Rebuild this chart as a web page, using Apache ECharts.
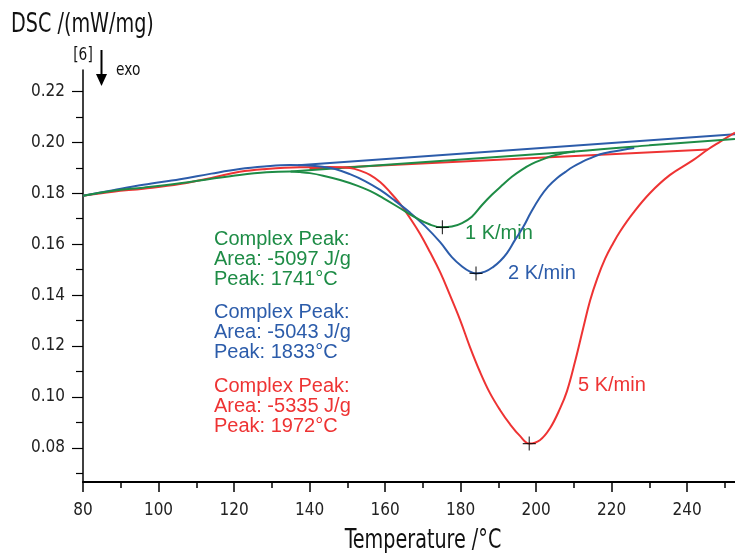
<!DOCTYPE html>
<html>
<head>
<meta charset="utf-8">
<script src="https://cdn.jsdelivr.net/npm/echarts@6/dist/echarts.min.js"></script>
<style>
  html, body { margin: 0; padding: 0; background: #fff; }
  #chart { width: 735px; height: 553px; }
</style>
</head>
<body>
<div id="chart"></div>
<script>
// DSC curves, temperature /°C against signal /(mW/mg)
const greenT = [80, 88, 96, 105.7, 114, 121.5, 128.6, 134.8, 137.5, 140.1, 143.6, 148.1, 152.6, 156.0, 159.5, 164.0, 168.5, 171.9, 175.1, 177.7, 180.4, 183.0, 185.7, 188.3, 191.0, 193.6, 196.3, 198.9, 201.6, 204.2, 206.9, 210.3, 230, 252.7];
const greenV = [0.1790, 0.1810, 0.1822, 0.1839, 0.1857, 0.1872, 0.1882, 0.1885, 0.1883, 0.1879, 0.1869, 0.1852, 0.1830, 0.1809, 0.1781, 0.1741, 0.1701, 0.1677, 0.1666, 0.1669, 0.1683, 0.1708, 0.1754, 0.1794, 0.1831, 0.1865, 0.1893, 0.1915, 0.1932, 0.1946, 0.1956, 0.1964, 0.1988, 0.2013];
const blueT = [80, 88, 96, 105.7, 114, 121.5, 128, 134.8, 138.8, 142.8, 146.8, 150.7, 154.7, 158.7, 162.6, 166.6, 170.6, 174.6, 177.7, 180.4, 182.5, 184.1, 186.5, 188.6, 190.5, 192.3, 194.4, 196.6, 198.7, 201.1, 203.2, 205.6, 207.7, 209.8, 212.2, 214.3, 217.0, 219.6, 226];
const blueV = [0.1790, 0.1812, 0.1833, 0.1855, 0.1877, 0.1895, 0.1905, 0.1911, 0.1910, 0.1905, 0.1895, 0.1875, 0.1848, 0.1813, 0.1771, 0.1724, 0.1671, 0.1608, 0.1549, 0.1512, 0.1492, 0.1485, 0.1492, 0.1510, 0.1534, 0.1565, 0.1616, 0.1667, 0.1726, 0.1785, 0.1826, 0.1860, 0.1883, 0.1904, 0.1923, 0.1937, 0.1953, 0.1962, 0.1978];
const redT = [80, 88, 96, 105.7, 114, 121.5, 128.6, 137.5, 145.4, 150.7, 153.4, 156.0, 158.7, 161.3, 164.0, 166.6, 169.3, 171.9, 174.6, 177.2, 179.9, 182.5, 185.2, 187.8, 190.5, 193.1, 195.8, 198.2, 201.0, 203.7, 206.4, 208.2, 210.3, 212.5, 214.3, 216.2, 218.3, 220.4, 222.3, 225.7, 230.2, 235.5, 241.6, 245.3, 248.7, 252.7];
const redV = [0.1790, 0.1806, 0.1818, 0.1836, 0.1860, 0.1884, 0.1895, 0.1902, 0.1903, 0.1899, 0.1889, 0.1872, 0.1844, 0.1805, 0.1758, 0.1703, 0.1640, 0.1569, 0.1490, 0.1400, 0.1302, 0.1196, 0.1097, 0.1015, 0.0948, 0.0893, 0.0846, 0.0817, 0.0830, 0.0877, 0.0956, 0.1023, 0.1137, 0.1271, 0.1378, 0.1465, 0.1543, 0.1603, 0.1651, 0.1722, 0.1801, 0.1872, 0.1930, 0.1970, 0.2002, 0.2038];

// integration baselines (start / end)
const greenBaseT = [135, 210.3];
const greenBaseV = [0.1885, 0.1964];
const blueBaseT = [137, 252.7];
const blueBaseV = [0.1910, 0.2032];
const redBaseT = [140, 245.5];
const redBaseV = [0.1895, 0.1972];

// peak markers
const peakT = [175.2, 184.1, 198.2];
const peakV = [0.1666, 0.1485, 0.0817];

// ticks
const xMajorTicks = [80, 100, 120, 140, 160, 180, 200, 220, 240];
const xMinorTicks = [90, 110, 130, 150, 170, 190, 210, 230, 250];
const yMajorTicks = [0.08, 0.10, 0.12, 0.14, 0.16, 0.18, 0.20, 0.22];
const yMinorTicks = [0.07, 0.09, 0.11, 0.13, 0.15, 0.17, 0.19, 0.21];

const GREEN = '#1e8c46';
const BLUE = '#2c5caa';
const RED = '#ee3333';
const axisFont = '"Liberation Sans Narrow", "DejaVu Sans Condensed", "Liberation Sans", sans-serif';
const textFont = '"Liberation Sans", Arial, sans-serif';

const pairs = (t, v) => t.map((x, i) => [x, v[i]]);

const chart = echarts.init(document.getElementById('chart'));

const lineSeries = (data, color) => ({
  type: 'line',
  data: data,
  smooth: 0.4,
  symbol: 'none',
  lineStyle: { color: color, width: 2 },
});

// text helper, sx squeezes the condensed axis font a bit more
const txt = (text, x, y, color, font, align, vAlign, lineHeight, sx) => ({
  type: 'text',
  x: x,
  y: y,
  scaleX: sx || 1,
  style: {
    text: text,
    fill: color,
    font: font,
    align: align,
    verticalAlign: vAlign,
    textAlign: align,
    textVerticalAlign: vAlign,
    lineHeight: lineHeight,
  },
});

chart.setOption({
  animation: false,
  grid: { left: 83, right: 0, top: 70, bottom: 71 },
  xAxis: [
    {
      type: 'value',
      position: 'bottom',
      min: 80,
      max: 252.7,
      axisLine: { lineStyle: { color: '#000', width: 2 } },
      axisTick: { customValues: xMajorTicks, length: 10, lineStyle: { color: '#000', width: 1.5 } },
      axisLabel: { customValues: xMajorTicks, margin: 20, fontSize: 17, fontFamily: axisFont, color: '#222' },
      splitLine: { show: false },
    },
    {
      type: 'value',
      position: 'bottom',
      min: 80,
      max: 252.7,
      axisLine: { show: false },
      axisTick: { customValues: xMinorTicks, length: 6, lineStyle: { color: '#000', width: 1.5 } },
      axisLabel: { show: false },
      splitLine: { show: false },
    },
  ],
  yAxis: [
    {
      type: 'value',
      position: 'left',
      min: 0.0666,
      max: 0.2284,
      axisLine: { show: true, lineStyle: { color: '#000', width: 1.5 } },
      axisTick: { show: true, customValues: yMajorTicks, length: 11, lineStyle: { color: '#000', width: 1.2 } },
      axisLabel: {
        customValues: yMajorTicks,
        margin: 18,
        fontSize: 17,
        fontFamily: axisFont,
        color: '#222',
        formatter: (v) => v.toFixed(2),
      },
      splitLine: { show: false },
    },
    {
      type: 'value',
      position: 'left',
      min: 0.0666,
      max: 0.2284,
      axisLine: { show: false },
      axisTick: { show: true, customValues: yMinorTicks, length: 7, lineStyle: { color: '#000', width: 1.2 } },
      axisLabel: { show: false },
      splitLine: { show: false },
    },
  ],
  series: [
    lineSeries(pairs(redBaseT, redBaseV), RED),
    lineSeries(pairs(blueBaseT, blueBaseV), BLUE),
    lineSeries(pairs(greenBaseT, greenBaseV), GREEN),
    lineSeries(pairs(redT, redV), RED),
    lineSeries(pairs(blueT, blueV), BLUE),
    lineSeries(pairs(greenT, greenV), GREEN),
    {
      type: 'scatter',
      data: pairs(peakT, peakV),
      symbol: 'path://M5,0h1v5h5v1h-5v5h-1v-5h-5v-1h5z',
      symbolSize: [13, 14],
      itemStyle: { color: '#000' },
      z: 5,
    },
  ],
  graphic: [
    txt('DSC /(mW/mg)', 11, 25, '#111', '26px ' + axisFont, 'left', 'middle', null, 0.82),
    txt('[6]', 83, 55, '#111', '18px ' + axisFont, 'center', 'middle', null, 0.85),
    { type: 'line', shape: { x1: 101.5, y1: 50, x2: 101.5, y2: 78 }, style: { stroke: '#000', lineWidth: 2 } },
    { type: 'polygon', shape: { points: [[96, 74], [107, 74], [101.5, 86]] }, style: { fill: '#000' } },
    txt('exo', 116, 70, '#111', '18px ' + axisFont, 'left', 'middle', null, 0.85),
    txt('Temperature /°C', 423, 541, '#111', '26px ' + axisFont, 'center', 'middle', null, 0.82),
    txt('Complex Peak:\nArea: -5097 J/g\nPeak: 1741°C', 214, 229, GREEN, '20px ' + textFont, 'left', 'top', 20),
    txt('Complex Peak:\nArea: -5043 J/g\nPeak: 1833°C', 214, 302, BLUE, '20px ' + textFont, 'left', 'top', 20),
    txt('Complex Peak:\nArea: -5335 J/g\nPeak: 1972°C', 214, 376, RED, '20px ' + textFont, 'left', 'top', 20),
    txt('1 K/min', 465, 233, GREEN, '20px ' + textFont, 'left', 'middle'),
    txt('2 K/min', 508, 273.5, BLUE, '20px ' + textFont, 'left', 'middle'),
    txt('5 K/min', 578, 385, RED, '20px ' + textFont, 'left', 'middle'),
  ],
});
</script>
</body>
</html>
